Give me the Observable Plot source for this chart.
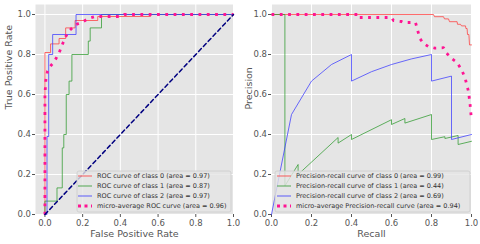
<!DOCTYPE html>
<html>
<head>
<meta charset="utf-8">
<script src="https://cdn.jsdelivr.net/npm/d3@7"></script>
<script src="https://cdn.jsdelivr.net/npm/@observablehq/plot@0.6"></script>
<style>
html,body{margin:0;padding:0;background:#fff;}
#wrap{position:relative;width:480px;height:244px;overflow:hidden;font-family:"DejaVu Sans",sans-serif;}
.panel{position:absolute;top:0;}
#overlay{position:absolute;left:0;top:0;}
</style>
</head>
<body>
<div id="wrap">
  <div class="panel" id="left" style="left:0"></div>
  <div class="panel" id="right" style="left:240px"></div>
  <svg id="overlay" width="480" height="244"></svg>
</div>
<script>
// ---------- data ----------
const tickValues = [0, 0.2, 0.4, 0.6, 0.8, 1.0];

// ROC curves
const roc0Fpr = [0, 0, 0.03, 0.03, 0.075, 0.075, 0.11, 0.11, 0.16, 0.16, 0.28, 0.28, 0.56, 0.56, 1];
const roc0Tpr = [0, 0.81, 0.81, 0.853, 0.853, 0.88, 0.88, 0.933, 0.933, 0.97, 0.97, 0.99, 0.99, 1, 1];

const roc1Fpr = [0, 0, 0.064, 0.064, 0.092, 0.092, 0.1, 0.1, 0.113, 0.113, 0.128, 0.128, 0.143, 0.143, 0.23, 0.23, 0.24, 0.24, 0.30, 0.30, 1];
const roc1Tpr = [0, 0.067, 0.067, 0.133, 0.133, 0.333, 0.333, 0.4, 0.4, 0.6, 0.6, 0.667, 0.667, 0.8, 0.8, 0.867, 0.867, 0.933, 0.933, 1, 1];

const roc2Fpr = [0, 0.011, 0.011, 0.02, 0.02, 0.041, 0.041, 0.165, 0.165, 1];
const roc2Tpr = [0, 0, 0.39, 0.39, 0.8, 0.8, 0.9, 0.9, 1, 1];

const rocMicroFpr = [0, 0, 0.005, 0.014, 0.023, 0.05, 0.076, 0.094, 0.112, 0.13, 0.16, 0.2, 0.23, 0.265, 0.4, 0.42, 1];
const rocMicroTpr = [0, 0.6, 0.673, 0.718, 0.735, 0.765, 0.81, 0.854, 0.893, 0.92, 0.948, 0.963, 0.98, 0.99, 0.99, 1, 1];

const chanceX = [0, 1];
const chanceY = [0, 1];

// Precision-recall curves
const pr0Recall = [0, 0.81, 0.815, 0.86, 0.865, 0.885, 0.89, 0.928, 0.93, 0.945, 0.95, 0.97, 0.972, 0.978, 0.98, 0.987, 0.99, 1];
const pr0Precision = [1, 1, 0.989, 0.989, 0.978, 0.978, 0.964, 0.964, 0.951, 0.951, 0.943, 0.943, 0.93, 0.93, 0.90, 0.90, 0.848, 0.848];

const pr1Recall = [0, 0.067, 0.067, 0.133, 0.133, 0.333, 0.333, 0.4, 0.4, 0.6, 0.6, 0.667, 0.667, 0.8, 0.8, 0.867, 0.867, 0.933, 0.933, 1];
const pr1Precision = [1, 1, 0.143, 0.25, 0.2, 0.385, 0.357, 0.4, 0.375, 0.474, 0.45, 0.48, 0.457, 0.5, 0.375, 0.389, 0.38, 0.395, 0.35, 0.366];

const pr2Recall = [0, 0.1, 0.2, 0.3, 0.4, 0.4, 0.5, 0.6, 0.7, 0.8, 0.8, 0.9, 0.9, 1.0];
const pr2Precision = [0, 0.5, 0.667, 0.75, 0.8, 0.667, 0.714, 0.75, 0.778, 0.8, 0.667, 0.692, 0.375, 0.4];

const prMicroRecall = [0, 0.44, 0.44, 0.6, 0.61, 0.65, 0.66, 0.72, 0.73, 0.742, 0.759, 0.784, 0.817, 0.86, 0.876, 0.90, 0.926, 0.951, 0.968, 0.985, 0.993, 1.0];
const prMicroPrecision = [1, 1, 0.985, 0.985, 0.97, 0.965, 0.96, 0.96, 0.923, 0.88, 0.856, 0.84, 0.832, 0.834, 0.806, 0.78, 0.762, 0.723, 0.682, 0.615, 0.549, 0.47];

const rocLabels = [
  "ROC curve of class 0 (area = 0.97)",
  "ROC curve of class 1 (area = 0.87)",
  "ROC curve of class 2 (area = 0.97)",
  "micro-average ROC curve (area = 0.96)"
];
const prLabels = [
  "Precision-recall curve of class 0 (area = 0.99)",
  "Precision-recall curve of class 1 (area = 0.44)",
  "Precision-recall curve of class 2 (area = 0.69)",
  "micro-average Precision-recall curve (area = 0.94)"
];
const seriesColors = ["#ff3b3b", "#2e9a2e", "#3b3bff", "#ff1493"];

// ---------- helpers ----------
const zip = (xs, ys) => xs.map((x, i) => ({x, y: ys[i]}));
const thin = {strokeWidth: 1, strokeOpacity: 0.75};
const dotted = {strokeWidth: 2.8, strokeDasharray: "2.8,5.5", strokeLinecap: "butt"};

function basePanel({xDomain, marginLeft, marginRight, xLabel, yLabel, yLabelDx, lines}) {
  return Plot.plot({
    width: 240,
    height: 244,
    marginLeft,
    marginRight,
    marginTop: 4,
    marginBottom: 30,
    style: {fontFamily: "DejaVu Sans, sans-serif", fontSize: "8.5px", color: "#555", background: "transparent", overflow: "visible"},
    x: {domain: xDomain},
    y: {domain: [0, 1.05]},
    marks: [
      Plot.frame({fill: "#e5e5e5", stroke: null}),
      Plot.gridX({ticks: tickValues, stroke: "#ffffff", strokeOpacity: 1, strokeWidth: 1}),
      Plot.gridY({ticks: tickValues, stroke: "#ffffff", strokeOpacity: 1, strokeWidth: 1}),
      Plot.axisX({ticks: tickValues, tickFormat: d => d.toFixed(1), tickSize: 3, tickPadding: 2, label: null}),
      Plot.axisY({ticks: tickValues, tickFormat: d => d.toFixed(1), tickSize: 3, tickPadding: 1.5, label: null}),
      ...lines,
      Plot.text([xLabel], {frameAnchor: "bottom", dy: 22, fontSize: 9.5, fill: "#555"}),
      Plot.text([yLabel], {frameAnchor: "left", dx: yLabelDx, rotate: -90, fontSize: 9.5, fill: "#555"})
    ]
  });
}

const left = basePanel({
  xDomain: [-0.05, 1.0],
  marginLeft: 35,
  marginRight: 7,
  xLabel: "False Positive Rate",
  yLabel: "True Positive Rate",
  yLabelDx: -27,
  lines: [
    Plot.line(zip(roc0Fpr, roc0Tpr), {x: "x", y: "y", stroke: seriesColors[0], ...thin}),
    Plot.line(zip(roc1Fpr, roc1Tpr), {x: "x", y: "y", stroke: seriesColors[1], ...thin}),
    Plot.line(zip(roc2Fpr, roc2Tpr), {x: "x", y: "y", stroke: seriesColors[2], ...thin}),
    Plot.line(zip(rocMicroFpr, rocMicroTpr), {x: "x", y: "y", stroke: seriesColors[3], ...dotted}),
    Plot.line(zip(chanceX, chanceY), {x: "x", y: "y", stroke: "#000080", strokeWidth: 1.5, strokeDasharray: "4,3"})
  ]
});
document.getElementById("left").append(left);

const right = basePanel({
  xDomain: [0, 1.0],
  marginLeft: 31,
  marginRight: 9,
  xLabel: "Recall",
  yLabel: "Precision",
  yLabelDx: -23,
  lines: [
    Plot.line(zip(pr0Recall, pr0Precision), {x: "x", y: "y", stroke: seriesColors[0], ...thin}),
    Plot.line(zip(pr1Recall, pr1Precision), {x: "x", y: "y", stroke: seriesColors[1], ...thin}),
    Plot.line(zip(pr2Recall, pr2Precision), {x: "x", y: "y", stroke: seriesColors[2], ...thin}),
    Plot.line(zip(prMicroRecall, prMicroPrecision), {x: "x", y: "y", stroke: seriesColors[3], ...dotted})
  ]
});
document.getElementById("right").append(right);

// ---------- legends ----------
const overlay = d3.select("#overlay");
function legend(box, labels) {
  const g = overlay.append("g");
  g.append("rect")
    .attr("x", box.x).attr("y", box.y).attr("width", box.w).attr("height", box.h)
    .attr("rx", 2).attr("fill", "#e5e5e5").attr("fill-opacity", 0.8)
    .attr("stroke", "#cccccc").attr("stroke-width", 0.8);
  labels.forEach((lab, i) => {
    const cy = box.y + 5 + i * 10;
    const line = g.append("line")
      .attr("x1", box.sx0).attr("x2", box.sx1).attr("y1", cy).attr("y2", cy)
      .attr("stroke", seriesColors[i]);
    if (i === 3) line.attr("stroke-width", 2.8).attr("stroke-dasharray", "3,3.5");
    else line.attr("stroke-width", 1).attr("stroke-opacity", 0.8);
    g.append("text")
      .attr("x", box.tx).attr("y", cy).attr("dy", "0.35em")
      .attr("font-family", "DejaVu Sans, sans-serif").attr("font-size", 6.5)
      .attr("fill", "#333").text(lab);
  });
}
legend({x: 77, y: 171, w: 154, h: 41, sx0: 78, sx1: 92, tx: 97}, rocLabels);
legend({x: 275, y: 171, w: 195, h: 41, sx0: 277, sx1: 291, tx: 296}, prLabels);
</script>
</body>
</html>
